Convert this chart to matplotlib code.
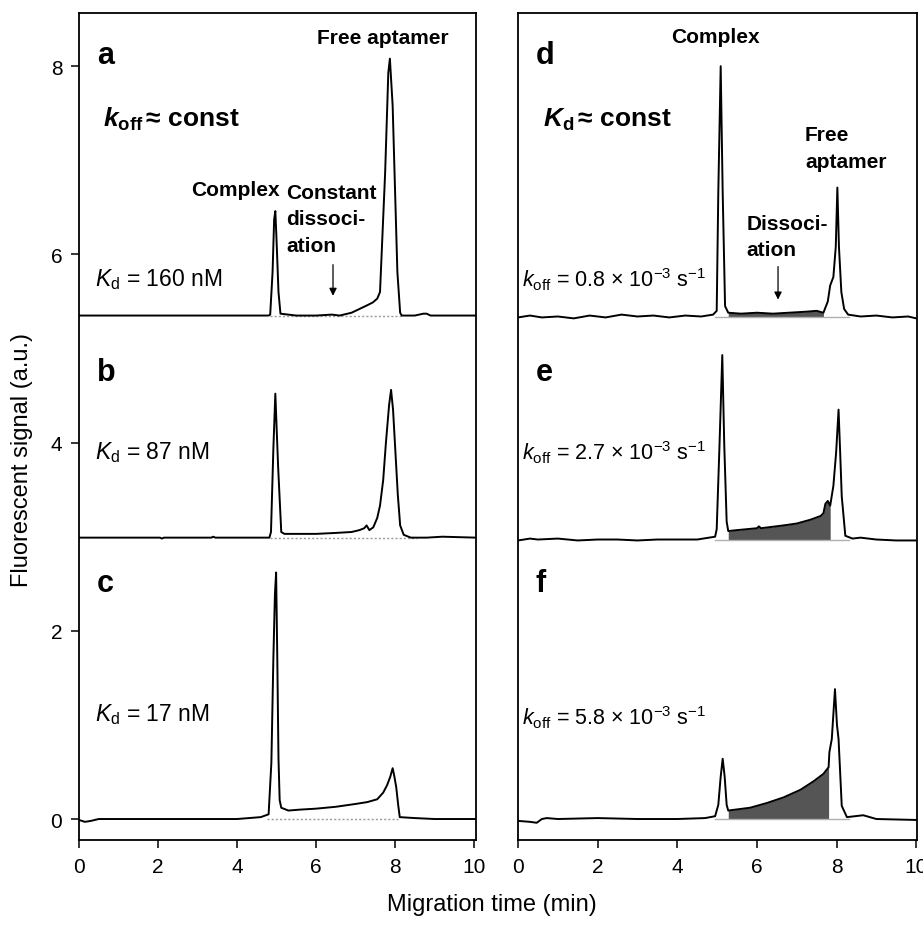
import numpy as np
import matplotlib
matplotlib.use("Agg")
import matplotlib.pyplot as plt

plt.rcParams['font.family'] = ['Liberation Sans', 'DejaVu Sans']
plt.rcParams['mathtext.fontset'] = 'custom'
plt.rcParams['mathtext.rm'] = 'Liberation Sans'
plt.rcParams['mathtext.it'] = 'Liberation Sans:italic'
plt.rcParams['mathtext.bf'] = 'Liberation Sans:bold'
plt.rcParams['mathtext.bfit'] = 'Liberation Sans:italic:bold'

# electropherograms, time in min / signal in a.u. (traces already offset)
t_a = [0.0, 3.0, 4.80, 4.84, 4.90, 4.94, 4.97, 5.00, 5.05, 5.10, 5.5, 6.0, 6.4, 6.6,
       6.9, 7.1, 7.3, 7.44, 7.55, 7.62, 7.75, 7.83, 7.87, 7.94, 8.00, 8.06, 8.13, 8.17,
       8.5, 8.72, 8.80, 8.9, 10.05]
v_a = [5.35, 5.35, 5.35, 5.36, 5.81, 6.37, 6.46, 6.16, 5.60, 5.37, 5.35, 5.35, 5.36, 5.35,
       5.38, 5.42, 5.46, 5.49, 5.53, 5.60, 6.87, 7.93, 8.08, 7.58, 6.69, 5.81, 5.38, 5.35,
       5.35, 5.37, 5.37, 5.35, 5.35]

t_b = [0.0, 2.05, 2.1, 2.15, 3.35, 3.4, 3.45, 4.82, 4.86, 4.92, 4.97, 5.04, 5.12, 5.2,
       6.0, 6.5, 6.9, 7.1, 7.22, 7.28, 7.35, 7.45, 7.55, 7.62, 7.70, 7.77, 7.85, 7.90,
       7.95, 8.01, 8.07, 8.13, 8.22, 8.4, 8.8, 9.2, 10.05]
v_b = [2.99, 2.99, 2.98, 2.99, 2.99, 3.0, 2.99, 2.99, 3.05, 3.93, 4.52, 3.75, 3.05, 3.03,
       3.03, 3.04, 3.05, 3.07, 3.09, 3.12, 3.07, 3.10, 3.20, 3.33, 3.60, 4.00, 4.40, 4.56,
       4.35, 3.90, 3.45, 3.12, 3.02, 2.99, 2.99, 3.0, 2.99]

t_c = [0.0, 0.15, 0.3, 0.5, 1.0, 2.0, 3.0, 4.0, 4.6, 4.80, 4.87, 4.92, 4.96, 4.99, 5.02,
       5.05, 5.08, 5.12, 5.3, 5.6, 6.0, 6.5, 7.0, 7.3, 7.55, 7.7, 7.8, 7.88, 7.94, 7.98,
       8.03, 8.08, 8.12, 8.5, 9.0, 10.05]
v_c = [-0.01, -0.03, -0.02, 0.0, 0.0, 0.0, 0.0, 0.0, 0.02, 0.05, 0.6, 1.70, 2.39, 2.62, 1.70,
       0.64, 0.20, 0.12, 0.09, 0.10, 0.11, 0.13, 0.16, 0.18, 0.21, 0.28, 0.36, 0.45, 0.54, 0.46,
       0.34, 0.15, 0.02, 0.01, 0.0, 0.0]

t_d = [0.0, 0.3, 0.6, 1.0, 1.4, 1.8, 2.2, 2.6, 3.0, 3.4, 3.8, 4.2, 4.6, 4.90, 4.99,
       5.03, 5.09, 5.14, 5.20, 5.28, 5.6, 6.0, 6.4, 6.8, 7.2, 7.5, 7.67, 7.78, 7.84,
       7.92, 7.98, 8.02, 8.06, 8.12, 8.19, 8.29, 8.6, 9.0, 9.4, 9.8, 10.0]
v_d = [5.33, 5.35, 5.33, 5.34, 5.32, 5.35, 5.33, 5.36, 5.34, 5.35, 5.33, 5.35, 5.34, 5.36, 5.40,
       6.66, 8.00, 6.66, 5.45, 5.38, 5.37, 5.38, 5.37, 5.38, 5.39, 5.40, 5.38, 5.50, 5.67,
       5.76, 6.08, 6.71, 6.08, 5.60, 5.42, 5.36, 5.34, 5.35, 5.33, 5.34, 5.32]

t_e = [0.0, 0.3, 0.5, 1.0, 1.5, 2.0, 2.5, 3.0, 3.5, 4.0, 4.5, 4.95, 4.99, 5.06, 5.13,
       5.18, 5.24, 5.28, 5.5, 6.0, 6.05, 6.1, 6.67, 7.0, 7.34, 7.6, 7.67, 7.72, 7.78,
       7.84, 7.92, 7.99, 8.05, 8.09, 8.13, 8.22, 8.4, 8.6, 9.0, 9.5, 10.0]
v_e = [2.96, 2.98, 2.97, 2.98, 2.96, 2.97, 2.97, 2.96, 2.97, 2.97, 2.97, 3.0, 3.08, 3.97, 4.93,
       3.97, 3.16, 3.06, 3.07, 3.09, 3.11, 3.09, 3.12, 3.14, 3.18, 3.22, 3.25, 3.35, 3.38,
       3.33, 3.54, 3.90, 4.35, 3.90, 3.43, 3.01, 2.98, 2.99, 2.97, 2.96, 2.96]

t_f = [0.0, 0.3, 0.47, 0.6, 0.72, 1.0, 2.0, 3.0, 4.0, 4.7, 4.95, 5.03, 5.09, 5.14, 5.19,
       5.24, 5.28, 5.83, 6.25, 6.67, 7.09, 7.42, 7.67, 7.80, 7.82, 7.88, 7.96, 8.01, 8.05,
       8.13, 8.26, 8.67, 9.0, 10.0]
v_f = [-0.02, -0.03, -0.04, 0.0, 0.01, 0.0, 0.01, 0.0, 0.0, 0.01, 0.03, 0.15, 0.45, 0.64, 0.45,
       0.15, 0.09, 0.12, 0.17, 0.23, 0.31, 0.40, 0.48, 0.55, 0.71, 0.85, 1.38, 1.0, 0.85,
       0.14, 0.02, 0.04, 0.0, -0.01]

# baseline offset of each trace
base_left = [5.35, 2.99, 0.0]
base_right = [5.33, 2.97, 0.0]

# shaded dissociation window (start, end) for d, e, f
shade_d = (5.22, 7.67)
shade_e = (5.28, 7.84)
shade_f = (5.28, 7.80)

kd_labels = ['160', '87', '17']
koff_labels = ['0.8', '2.7', '5.8']

fig = plt.figure(figsize=(9.23, 9.29), dpi=100)
ax1 = fig.add_axes([79 / 923, 88 / 929, 397 / 923, 827 / 929])
ax2 = fig.add_axes([518 / 923, 88 / 929, 399 / 923, 827 / 929])

for ax in (ax1, ax2):
    ax.set_ylim(-0.223, 8.565)
    for s in ax.spines.values():
        s.set_linewidth(1.3)
    ax.set_xticks([0, 2, 4, 6, 8, 10])
    ax.tick_params(direction='out', length=6, width=1.1, labelsize=15, pad=6)
ax1.set_xlim(0, 10.05)
ax2.set_xlim(0, 10.02)
ax1.set_yticks([0, 2, 4, 6, 8])
ax2.set_yticks([])

lw = 1.4
# left panel: dotted baseline below peak region, then the traces
for b, x0, x1 in zip(base_left, [4.84, 4.84, 4.75], [8.17, 8.55, 8.08]):
    ax1.plot([x0, x1], [b, b], ls=(0, (1.5, 1.5)), color='#9a9a9a', lw=1.0)
for t, v in [(t_a, v_a), (t_b, v_b), (t_c, v_c)]:
    ax1.plot(t, v, color='k', lw=lw)

# right panel: shaded dissociation areas
for t, v, b, (s0, s1) in [(t_d, v_d, base_right[0], shade_d),
                          (t_e, v_e, base_right[1], shade_e),
                          (t_f, v_f, base_right[2], shade_f)]:
    t = np.array(t)
    v = np.array(v)
    m = (t >= s0) & (t <= s1)
    ax2.fill_between(t[m], b, v[m], color='#555555', lw=0)
    ax2.plot([4.95, 8.3], [b, b], color='#b0b0b0', lw=1.0)
    ax2.plot(t, v, color='k', lw=lw)

# panel letters and labels
bold = dict(fontweight='bold')
for ax, letters in [(ax1, 'abc'), (ax2, 'def')]:
    for let, y in zip(letters, [8.12, 4.75, 2.51]):
        ax.text(0.45, y, let, fontsize=22, va='center', ha='left', **bold)

ax1.text(0.6, 7.44, r'$\mathbfit{k}_{\mathbf{off}}\,$' + '\u2248 const', fontsize=19,
         va='center', **bold)
ax2.text(0.62, 7.44, r'$\mathbfit{K}_{\mathbf{d}}\,$' + '\u2248 const', fontsize=19,
         va='center', **bold)

for y, kd in zip([5.74, 3.90, 1.12], kd_labels):
    ax1.text(0.4, y, r'$K_\mathrm{d}$' + ' = ' + kd + ' nM', fontsize=16.5, va='center')
for y, k in zip([5.74, 3.90, 1.09], koff_labels):
    ax2.text(0.1, y, r'$k_\mathrm{off}$' + ' = ' + k + ' \u00d7 10$^{-3}$ s$^{-1}$',
             fontsize=15.5, va='center')

ann = dict(fontsize=15, fontweight='bold')
ax1.text(7.7, 8.30, 'Free aptamer', ha='center', va='center', **ann)
ax1.text(3.97, 6.69, 'Complex', ha='center', va='center', **ann)
ax1.text(5.24, 6.76, 'Constant\ndissoci-\nation', ha='left', va='top',
         linespacing=1.5, **ann)
ax2.text(4.95, 8.32, 'Complex', ha='center', va='center', **ann)
ax2.text(7.21, 7.37, 'Free\naptamer', ha='left', va='top', linespacing=1.5, **ann)
ax2.text(5.73, 6.43, 'Dissoci-\nation', ha='left', va='top', linespacing=1.5, **ann)

arrow = dict(arrowstyle='-|>', color='k', lw=0.9, mutation_scale=11)
ax1.annotate('', xy=(6.43, 5.53), xytext=(6.43, 5.92), arrowprops=arrow)
ax2.annotate('', xy=(6.53, 5.49), xytext=(6.53, 5.90), arrowprops=arrow)

fig.text(0.533, 0.026, 'Migration time (min)', fontsize=17, ha='center', va='center')
fig.text(0.024, 0.505, 'Fluorescent signal (a.u.)', fontsize=17, rotation=90,
         ha='center', va='center')

fig.savefig('out.png', dpi=100)
